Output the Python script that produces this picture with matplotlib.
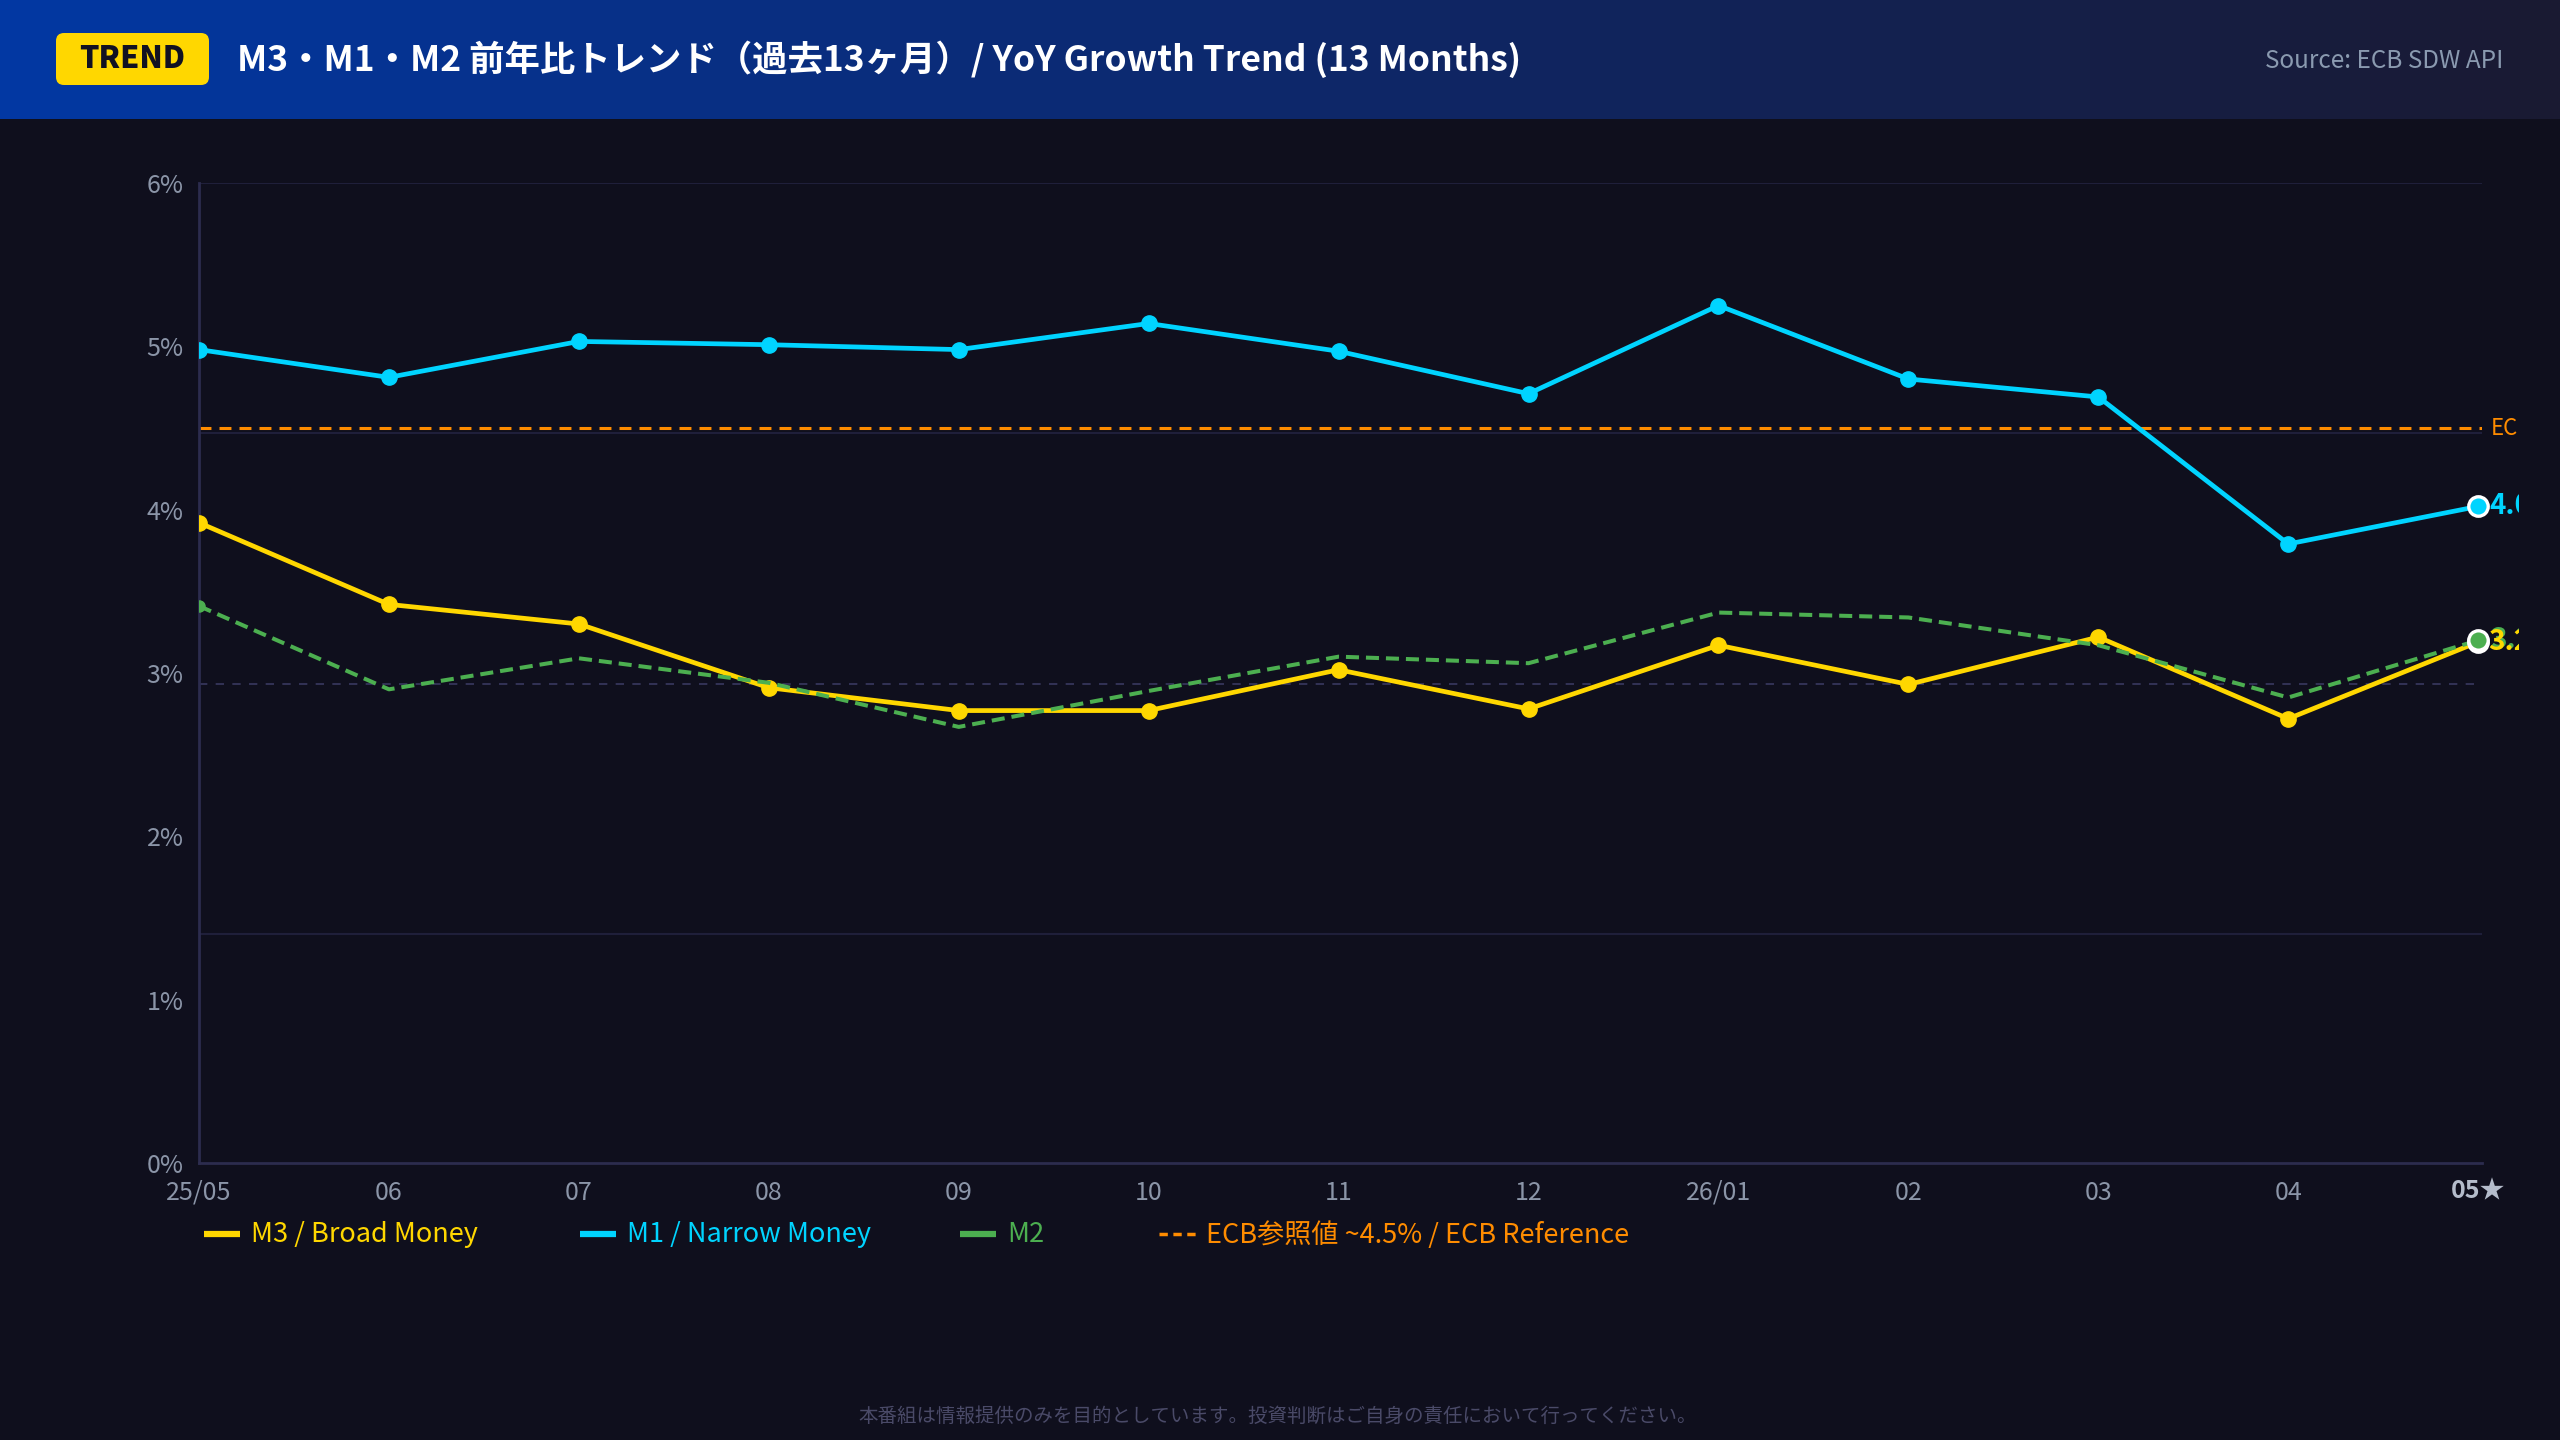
import matplotlib
matplotlib.use("Agg")
import matplotlib.pyplot as plt
import numpy as np
from matplotlib.colors import LinearSegmentedColormap
from matplotlib.lines import Line2D
from matplotlib.patches import FancyBboxPatch
from matplotlib.transforms import Bbox

plt.rcParams["font.family"] = ["Noto Sans CJK JP", "DejaVu Sans"]
plt.rcParams["lines.scale_dashes"] = False

MONTHS = ["25/05", "06", "07", "08", "09", "10", "11", "12", "26/01", "02", "03", "04", "05★"]
M3 = [3.92, 3.42, 3.30, 2.91, 2.77, 2.77, 3.02, 2.78, 3.17, 2.93, 3.22, 2.72, 3.19]
M1 = [4.98, 4.81, 5.03, 5.01, 4.98, 5.14, 4.97, 4.71, 5.25, 4.80, 4.69, 3.79, 4.02]
M2 = [3.41, 2.90, 3.09, 2.94, 2.67, 2.89, 3.10, 3.06, 3.37, 3.34, 3.17, 2.85, 3.20]
ECB_REF = 4.5
Y_TICKS = [0, 1, 2, 3, 4, 5, 6]
GRID_SOLID = [6.0, 4.47, 1.40]
GRID_DASHED = [2.93]

BG = "#0f0f1d"
YELLOW = "#ffd700"
CYAN = "#00d4ff"
GREEN = "#4caf50"
ORANGE = "#ff8c00"
TICK = "#8b95a8"

W, H = 2560, 1440
fig = plt.figure(figsize=(W / 100, H / 100), dpi=100, facecolor=BG)

# decoration layer in pixel coordinates (y down)
bg = fig.add_axes([0, 0, 1, 1], zorder=0)
bg.set_xlim(0, W)
bg.set_ylim(H, 0)
bg.axis("off")
bg.set_facecolor(BG)

cmap = LinearSegmentedColormap.from_list("hdr", [(0, "#0238a3"), (0.6, "#102560"), (1, "#1a1a32")])
grad = np.linspace(0, 1, 512).reshape(1, -1)
bg.imshow(grad, cmap=cmap, aspect="auto", extent=(0, W, 119, 0), zorder=1)

badge = FancyBboxPatch((56, 33), 153, 52, boxstyle="round,pad=0,rounding_size=8",
                       facecolor=YELLOW, edgecolor="none", zorder=2)
bg.add_patch(badge)
bg.text(132, 59, "TREND", color="#111122", fontsize=22, fontweight="heavy",
        ha="center", va="center", zorder=3)
bg.text(237, 59, "M3・M1・M2 前年比トレンド（過去13ヶ月）/ YoY Growth Trend (13 Months)",
        color="white", fontsize=25.5, fontweight="bold", ha="left", va="center", zorder=3)
bg.text(2503, 61, "Source: ECB SDW API", color="#8a9ab0", fontsize=17.5,
        ha="right", va="center", zorder=3)
bg.text(1278, 1416, "本番組は情報提供のみを目的としています。投資判断はご自身の責任において行ってください。",
        color="#4a4a68", fontsize=14, ha="center", va="center")

# legend
legend_items = [
    (204, "M3 / Broad Money", YELLOW, "-"),
    (580, "M1 / Narrow Money", CYAN, "-"),
    (960, "M2", GREEN, "-"),
    (1159, "ECB参照値 ~4.5% / ECB Reference", ORANGE, "--"),
]
for x0, label, color, style in legend_items:
    if style == "-":
        bg.add_line(Line2D([x0, x0 + 36], [1234, 1234], color=color, lw=4.5, solid_capstyle="butt"))
    else:
        bg.add_line(Line2D([x0, x0 + 38], [1234, 1234], color=color, lw=2.5, dashes=(6, 4)))
    bg.text(x0 + 47, 1235, label, color=color, fontsize=19.5, ha="left", va="center")

# main chart
ax = fig.add_axes([199 / W, 277 / H, (2482 - 199) / W, (1257 - 277) / H], zorder=2)
ax.set_facecolor("none")
x = np.arange(len(MONTHS))
ax.set_xlim(0, 12.02)
ax.set_ylim(0, 6)

for g in GRID_SOLID:
    ax.axhline(g, color="#1f1f3a", lw=1.5, zorder=1)
for g in GRID_DASHED:
    ax.axhline(g, color="#35355a", lw=1.3, dashes=(6, 6), zorder=1)

ax.axhline(ECB_REF, color=ORANGE, lw=2.2, dashes=(8.6, 5.8), zorder=2)

ax.plot(x, M1, color=CYAN, lw=3.4, marker="o", markersize=11, zorder=5)
ax.plot(x, M3, color=YELLOW, lw=3.4, marker="o", markersize=11, zorder=4)
ax.plot(x, M2, color=GREEN, lw=2.9, dashes=(9.4, 5), zorder=6)
ax.plot(x[0], M2[0], "o", color=GREEN, markersize=8, zorder=6)

for series, color in [(M1, CYAN), (M3, YELLOW), (M2, GREEN)]:
    ax.plot(x[-1], series[-1], "o", color=color, markersize=14,
            markeredgecolor="white", markeredgewidth=2.4, zorder=8, clip_on=False)

# end labels are cut by the card edge, as in the source
clip = Bbox([[0, 0], [2519, H]])
end_labels = [
    (M1[-1], f"{M1[-1]:.1f}", CYAN, (8, 0)),
    (M2[-1], f"{M2[-1]:.1f}", GREEN, (9, 0)),
    (M3[-1], f"{M3[-1]:.1f}", YELLOW, (7, 0)),
]
for val, txt, color, off in end_labels:
    t = ax.annotate(txt, (x[-1], val), xytext=off, textcoords="offset points",
                    color=color, fontsize=20, fontweight="bold", ha="left", va="center",
                    annotation_clip=False, zorder=9)
    t.set_clip_box(clip)
    t.set_clip_on(True)

ax.annotate("EC", (x[-1], ECB_REF), xytext=(9, 0), textcoords="offset points",
            color=ORANGE, fontsize=16, ha="left", va="center", annotation_clip=False)

ax.set_xticks(x, MONTHS)
ax.set_yticks(Y_TICKS, [f"{v}%" for v in Y_TICKS])
ax.tick_params(axis="both", length=0, colors=TICK, labelsize=18)
ax.tick_params(axis="x", pad=12)
ax.tick_params(axis="y", pad=11)
labels = ax.get_xticklabels()
labels[-1].set_fontweight("bold")
labels[-1].set_color("#b4bccb")

for side in ["top", "right"]:
    ax.spines[side].set_visible(False)
for side in ["left", "bottom"]:
    ax.spines[side].set_color("#2c2c4e")
    ax.spines[side].set_linewidth(2)

fig.savefig("out.png", dpi=100, facecolor=BG)
